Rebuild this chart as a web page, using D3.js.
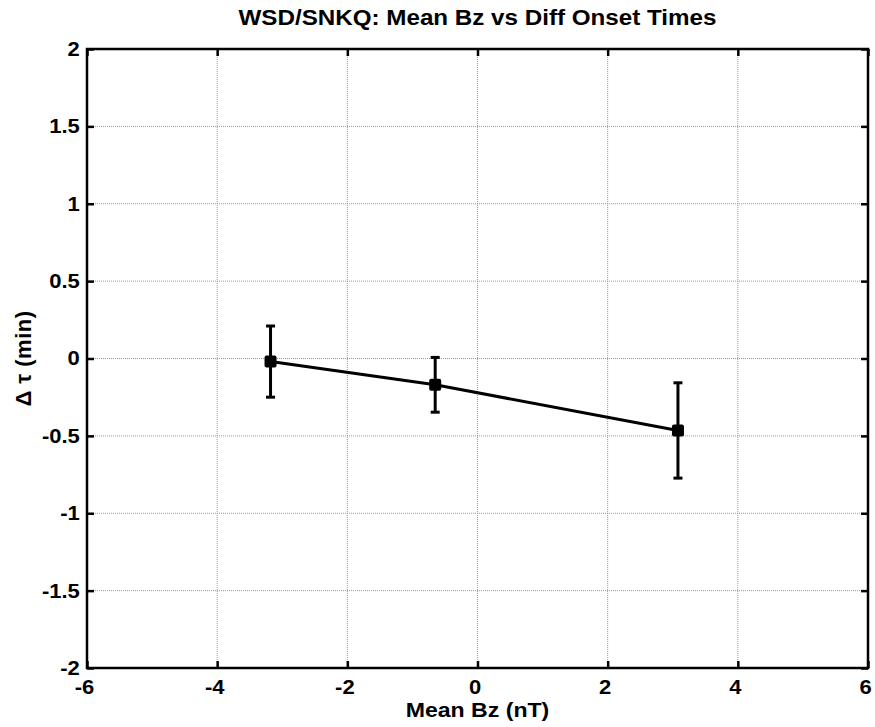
<!DOCTYPE html>
<html>
<head>
<meta charset="utf-8">
<script src="https://cdn.jsdelivr.net/npm/d3@7"></script>
<style>
	body { margin: 0; background: #fff; }
	text { font-family: 'Liberation Sans', Arial, sans-serif; font-weight: bold; fill: #000; }
</style>
</head>
<body>
<svg id="chart"></svg>
<script>
// ========== DATA ==========
var meanBz = [-3.18, -0.65, 3.08];
var deltaTau = [-0.02, -0.17, -0.465];
var errTau = [0.23, 0.177, 0.308];
var xTicks = [-6, -4, -2, 0, 2, 4, 6];
var yTicks = [-2, -1.5, -1, -0.5, 0, 0.5, 1, 1.5, 2];

var titleText = 'WSD/SNKQ: Mean Bz vs Diff Onset Times';
var xLabel = 'Mean Bz (nT)';
var yLabel = 'Δ τ (min)';

makeChart();

function makeChart() {
	// ========== CHART ==========
	var width = 875;
	var height = 727;
	var left = 87, right = 868, plotTop = 49, bottom = 668;
	var tickLen = 7;
	var stretch = 1.1; // reference text is a bit wider than Liberation Sans
	var fmt = function(d) { return String(d); };

	var svg = d3.select('#chart')
		.attr('width', width)
		.attr('height', height);

	var x = d3.scaleLinear().domain([-6, 6]).range([left, right]);
	var y = d3.scaleLinear().domain([-2, 2]).range([bottom, plotTop]);

	// grid
	svg.append('g').selectAll('line')
		.data(xTicks.slice(1, -1)).enter().append('line')
			.attr('x1', function(d) { return x(d); })
			.attr('x2', function(d) { return x(d); })
			.attr('y1', plotTop)
			.attr('y2', bottom)
			.attr('stroke', '#999')
			.attr('stroke-width', 1)
			.style('stroke-dasharray', '1,1');
	svg.append('g').selectAll('line')
		.data(yTicks.slice(1, -1)).enter().append('line')
			.attr('y1', function(d) { return y(d); })
			.attr('y2', function(d) { return y(d); })
			.attr('x1', left)
			.attr('x2', right)
			.attr('stroke', '#999')
			.attr('stroke-width', 1)
			.style('stroke-dasharray', '1,1');

	// axes (ticks pointing inward on all four sides)
	function styleAxis(g) {
		g.select('.domain').remove();
		g.selectAll('.tick line').attr('stroke', '#000').attr('stroke-width', 2.5);
		g.selectAll('.tick text')
			.style('font-family', "'Liberation Sans', Arial, sans-serif")
			.style('font-weight', 'bold')
			.style('font-size', '20px')
			.attr('fill', '#000');
	}

	svg.append('g')
		.attr('transform', 'translate(0,' + bottom + ')')
		.call(d3.axisBottom(x).tickValues(xTicks).tickSizeInner(-tickLen).tickSizeOuter(0).tickPadding(12).tickFormat(fmt))
		.call(styleAxis)
		.selectAll('.tick text')
			.attr('transform', 'translate(-3,0)scale(' + stretch + ',1)');
	svg.append('g')
		.attr('transform', 'translate(0,' + plotTop + ')')
		.call(d3.axisTop(x).tickValues(xTicks).tickSizeInner(-tickLen).tickSizeOuter(0).tickFormat(''))
		.call(styleAxis);
	svg.append('g')
		.attr('transform', 'translate(' + left + ',0)')
		.call(d3.axisLeft(y).tickValues(yTicks).tickSizeInner(-tickLen).tickSizeOuter(0).tickPadding(6.5).tickFormat(fmt))
		.call(styleAxis)
		.selectAll('.tick text')
			.attr('transform', 'scale(' + stretch + ',1)');
	svg.append('g')
		.attr('transform', 'translate(' + right + ',0)')
		.call(d3.axisRight(y).tickValues(yTicks).tickSizeInner(-tickLen).tickSizeOuter(0).tickFormat(''))
		.call(styleAxis);

	// frame
	svg.append('rect')
		.attr('x', left)
		.attr('y', plotTop)
		.attr('width', right - left)
		.attr('height', bottom - plotTop)
		.attr('fill', 'none')
		.attr('stroke', '#000')
		.attr('stroke-width', 2.5);

	// data line
	var pts = meanBz.map(function(d, i) { return [d, deltaTau[i], errTau[i]]; });
	svg.append('path')
		.datum(pts)
		.attr('fill', 'none')
		.attr('stroke', '#000')
		.attr('stroke-width', 3)
		.attr('d', d3.line()
			.x(function(d) { return x(d[0]); })
			.y(function(d) { return y(d[1]); }));

	// error bars
	var capW = 4.5;
	var err = svg.append('g').selectAll('g')
		.data(pts).enter().append('g')
		.attr('stroke', '#000')
		.attr('stroke-width', 3);
	err.append('line')
		.attr('x1', function(d) { return x(d[0]); })
		.attr('x2', function(d) { return x(d[0]); })
		.attr('y1', function(d) { return y(d[1] + d[2]); })
		.attr('y2', function(d) { return y(d[1] - d[2]); });
	err.append('line')
		.attr('x1', function(d) { return x(d[0]) - capW; })
		.attr('x2', function(d) { return x(d[0]) + capW; })
		.attr('y1', function(d) { return y(d[1] + d[2]); })
		.attr('y2', function(d) { return y(d[1] + d[2]); });
	err.append('line')
		.attr('x1', function(d) { return x(d[0]) - capW; })
		.attr('x2', function(d) { return x(d[0]) + capW; })
		.attr('y1', function(d) { return y(d[1] - d[2]); })
		.attr('y2', function(d) { return y(d[1] - d[2]); });

	// markers
	var ms = 12;
	svg.append('g').selectAll('rect')
		.data(pts).enter().append('rect')
			.attr('x', function(d) { return x(d[0]) - ms / 2; })
			.attr('y', function(d) { return y(d[1]) - ms / 2; })
			.attr('width', ms)
			.attr('height', ms)
			.attr('rx', 2)
			.attr('fill', '#000');

	// labels
	svg.append('text')
		.attr('transform', 'translate(' + ((left + right) / 2) + ',25)scale(' + stretch + ',1)')
		.attr('text-anchor', 'middle')
		.style('font-size', '22px')
		.text(titleText);
	svg.append('text')
		.attr('transform', 'translate(' + ((left + right) / 2) + ',717)scale(' + stretch + ',1)')
		.attr('text-anchor', 'middle')
		.style('font-size', '21px')
		.text(xLabel);
	svg.append('text')
		.attr('transform', 'translate(31,' + ((plotTop + bottom) / 2) + ')rotate(-90)')
		.attr('text-anchor', 'middle')
		.style('font-size', '22px')
		.style('letter-spacing', '0.5px')
		.text(yLabel);
}
</script>
</body>
</html>
